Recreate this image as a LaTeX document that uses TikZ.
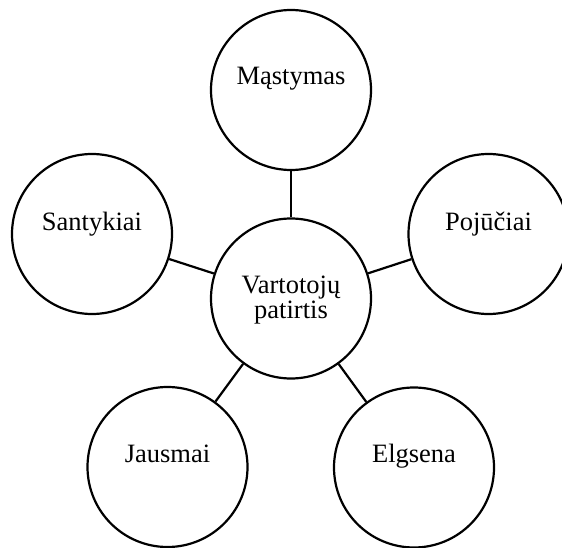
\documentclass[tikz,border=0pt]{standalone}
\usepackage{fontspec}
\setmainfont{Liberation Serif}
\begin{document}
\begin{tikzpicture}[x=1pt,y=-1pt,
  bub/.style={circle,draw=black,line width=2.2pt,fill=white,minimum size=160pt,inner sep=0pt},
  lbl/.style={anchor=base,inner sep=0pt,align=center,font=\fontsize{26.5}{25.7}\selectfont},
  link/.style={draw=black,line width=2.2pt}]
\useasboundingbox (0,0) rectangle (562,548);
\clip (0,0) rectangle (562,548);
% circles
\node[bub] (c) at (291,298.5) {};
\node[bub] (m) at (291,90) {};
\node[bub] (s) at (92,234) {};
\node[bub] (p) at (488.5,234) {};
\node[bub] (j) at (167.5,467) {};
\node[bub] (e) at (414,467.5) {};
% connectors from the hub
\foreach \o in {m,s,p,j,e} \path[link] (c) -- (\o);
% labels, baseline slightly above the centre
\node[lbl] (mt) at ([yshift=5pt]m.center) {Mąstymas};
\node[lbl] (st) at ([yshift=4pt]s.center) {Santykiai};
\node[lbl] (pt) at ([yshift=4pt]p.center) {Pojūčiai};
\node[lbl] (jt) at ([yshift=5pt]j.center) {Jausmai};
\node[lbl] (et) at ([yshift=5pt]e.center) {Elgsena};
\node[lbl] (ct1) at ([yshift=5.3pt]c.center) {Vartotojų};
\node[lbl] (ct2) at ([yshift=-20.4pt]c.center) {patirtis};
\end{tikzpicture}
\end{document}
